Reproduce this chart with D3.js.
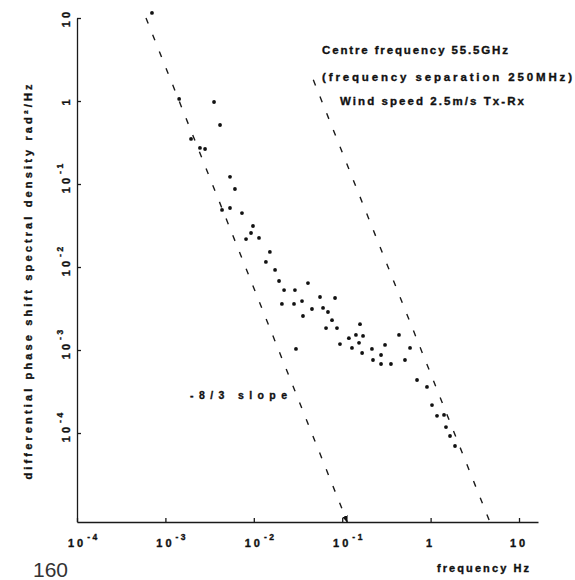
<!DOCTYPE html>
<html>
<head>
<meta charset="utf-8">
<script src="https://cdn.jsdelivr.net/npm/d3@7/dist/d3.min.js"></script>
<style>
  html, body { margin: 0; padding: 0; background: #ffffff; }
  svg { display: block; }
  text { font-family: "Liberation Sans", Arial, sans-serif; font-weight: bold; fill: #111; stroke: #111; stroke-width: 0.35px; }
  text.page { font-weight: normal; fill: #333; stroke: none; }
</style>
</head>
<body>
<svg id="chart" width="575" height="580"></svg>
<script>
// Spectral estimates: frequency (Hz) and differential phase shift spectral density (rad^2/Hz)
const freqHz = [
  7.05e-4, 1.43e-3, 3.55e-3, 4.15e-3, 1.95e-3, 2.46e-3, 2.81e-3, 5.38e-3, 6.12e-3, 4.37e-3,
  5.38e-3, 7.35e-3, 9.79e-3, 9.30e-3, 8.17e-3, 0.01145, 0.0152, 0.0137, 0.0174, 0.0193,
  0.0410, 0.0220, 0.0292, 0.0208, 0.0285, 0.0351, 0.0561, 0.0830, 0.0360, 0.0455,
  0.0607, 0.0690, 0.0767, 0.0656, 0.0873, 0.159, 0.0944, 0.119, 0.143, 0.172,
  0.155, 0.129, 0.168, 0.217, 0.305, 0.439, 0.275, 0.223, 0.275, 0.356,
  0.513, 0.585, 0.0300, 0.702, 0.910, 1.037, 1.181, 1.418, 1.493, 1.658, 1.888
];
const psd = [
  11.5, 1.06, 0.973, 0.514, 0.349, 0.272, 0.264, 0.122, 0.0871, 0.0487,
  0.0514, 0.0447, 0.0312, 0.0257, 0.0217, 0.0224, 0.0152, 0.0115, 0.00921, 0.00678,
  0.00641, 0.00528, 0.00528, 0.00359, 0.00359, 0.00389, 0.00435, 0.00423, 0.00257, 0.00312,
  0.00321, 0.00287, 0.00229, 0.00184, 0.00184, 0.00205, 0.00118, 0.00139, 0.00152, 0.00148,
  0.00122, 0.00106, 9.21e-4, 0.00103, 0.00115, 0.00152, 8.71e-4, 7.58e-4, 6.78e-4, 6.78e-4,
  7.58e-4, 0.00106, 0.00103, 4.35e-4, 3.59e-4, 2.17e-4, 1.61e-4, 1.65e-4, 1.18e-4, 9.21e-5, 6.97e-5
];

// Reference lines of -8/3 slope: anchor point, start frequency, arrow at the axis
const slopeValue = -8 / 3;
const slopeAnchorHz = [0.01271, 0.527];
const slopeAnchorPsd = [2.95e-3, 2.87e-3];
const slopeStartHz = [6.03e-4, 0.0471];
const slopeArrow = [true, false];

// Tick values and labels (mantissa + exponent)
const xTickValues = [1e-4, 1e-3, 1e-2, 1e-1, 1, 10];
const xTickBase = ["10", "10", "10", "10", "1", "10"];
const xTickExp = ["-4", "-3", "-2", "-1", "", ""];
const yTickValues = [10, 1, 1e-1, 1e-2, 1e-3, 1e-4];
const yTickBase = ["10", "1", "10", "10", "10", "10"];
const yTickExp = ["", "", "-1", "-2", "-3", "-4"];

// Text
const yTitle = "differential phase shift spectral density rad\u00B2/Hz";
const xTitle = "frequency Hz";
const noteLines = ["Centre frequency 55.5GHz", "(frequency separation 250MHz)", "Wind speed 2.5m/s Tx-Rx"];
const slopeLabel = "-8/3 slope";
const pageNumber = "160";

const svg = d3.select("#chart");

const x = d3.scaleLog().domain([1e-4, 16.4]).range([77, 538]);
const y = d3.scaleLog().domain([8.47e-6, 10]).range([522, 18]);

// Axes (inward ticks, labels drawn separately)
svg.append("g")
  .attr("transform", `translate(0,${y.range()[0]})`)
  .call(d3.axisBottom(x).tickValues(xTickValues).tickSizeInner(-4).tickSizeOuter(0).tickFormat(""))
  .call(g => g.selectAll("path,line").attr("stroke", "#1a1a1a").attr("stroke-width", 1.3));

svg.append("g")
  .attr("transform", `translate(${x.range()[0]},0)`)
  .call(d3.axisLeft(y).tickValues(yTickValues).tickSizeInner(-4).tickSizeOuter(0).tickFormat(""))
  .call(g => g.selectAll("path,line").attr("stroke", "#1a1a1a").attr("stroke-width", 1.3));

// X tick labels: mantissa centred on tick, exponent raised to the right
const xLab = svg.append("g");
xTickValues.forEach((v, i) => {
  const base = xLab.append("text")
    .attr("x", x(v)).attr("y", 547)
    .attr("text-anchor", "middle")
    .attr("font-size", 11).attr("letter-spacing", 3)
    .text(xTickBase[i]);
  const w = base.node().getComputedTextLength();
  if (xTickExp[i]) {
    xLab.append("text")
      .attr("x", x(v) + w / 2 + 1).attr("y", 540)
      .attr("font-size", 8.5).attr("letter-spacing", 2.5)
      .text(xTickExp[i]);
  }
});

// Y tick labels, rotated
const yLab = svg.append("g");
yTickValues.forEach((v, i) => {
  const g = yLab.append("g").attr("transform", `translate(70,${y(v)}) rotate(-90)`);
  const base = g.append("text")
    .attr("x", 0).attr("y", 0)
    .attr("text-anchor", "middle")
    .attr("font-size", 11).attr("letter-spacing", 3)
    .text(yTickBase[i]);
  const w = base.node().getComputedTextLength();
  if (yTickExp[i]) {
    g.append("text")
      .attr("x", w / 2 + 1).attr("y", -7)
      .attr("font-size", 8.5).attr("letter-spacing", 2.5)
      .text(yTickExp[i]);
  }
});

// Arrow head for the slope line reaching the axis
svg.append("defs").append("marker")
  .attr("id", "arrowHead")
  .attr("viewBox", "0 0 10 10")
  .attr("refX", 9).attr("refY", 5)
  .attr("markerWidth", 7).attr("markerHeight", 7)
  .attr("markerUnits", "userSpaceOnUse")
  .attr("orient", "auto")
  .append("path").attr("d", "M0,1L10,5L0,9z").attr("fill", "#111");

// -8/3 slope reference lines, from start frequency down to the bottom of the axis
const sMin = y.domain()[0];
const lineGen = d3.line().x(d => x(d[0])).y(d => y(d[1]));
slopeAnchorHz.forEach((f0, i) => {
  const s0 = slopeAnchorPsd[i];
  const fA = slopeStartHz[i];
  const sA = s0 * Math.pow(fA / f0, slopeValue);
  const fB = f0 * Math.pow(sMin / s0, 1 / slopeValue);
  const p = svg.append("path")
    .datum([[fA, sA], [fB, sMin]])
    .attr("d", lineGen)
    .attr("fill", "none")
    .attr("stroke", "#1a1a1a")
    .attr("stroke-width", 1.4)
    .attr("stroke-dasharray", "6 12");
  if (slopeArrow[i]) p.attr("marker-end", "url(#arrowHead)");
});

// Data points
svg.append("g")
  .selectAll("circle")
  .data(d3.zip(freqHz, psd))
  .join("circle")
  .attr("cx", d => x(d[0]))
  .attr("cy", d => y(d[1]))
  .attr("r", 1.9)
  .attr("fill", "#111");

// Axis titles
svg.append("text")
  .attr("transform", "translate(32,282) rotate(-90)")
  .attr("text-anchor", "middle")
  .attr("font-size", 11)
  .attr("textLength", 395).attr("lengthAdjust", "spacing")
  .text(yTitle);

svg.append("text")
  .attr("x", 437).attr("y", 572)
  .attr("font-size", 11)
  .attr("textLength", 92).attr("lengthAdjust", "spacing")
  .text(xTitle);

// Notes in the upper right
const noteX = [322, 322, 340];
const noteY = [54, 81, 105];
const noteW = [186, 250, 184];
noteLines.forEach((t, i) => {
  svg.append("text")
    .attr("x", noteX[i]).attr("y", noteY[i])
    .attr("font-size", 11.5)
    .attr("textLength", noteW[i]).attr("lengthAdjust", "spacing")
    .text(t);
});

// Slope annotation
svg.append("text")
  .attr("x", 190).attr("y", 399)
  .attr("font-size", 10.5)
  .attr("textLength", 97).attr("lengthAdjust", "spacing")
  .text(slopeLabel);

// Page number
svg.append("text")
  .attr("class", "page")
  .attr("x", 33).attr("y", 577)
  .attr("font-size", 21)
  .text(pageNumber);
</script>
</body>
</html>
